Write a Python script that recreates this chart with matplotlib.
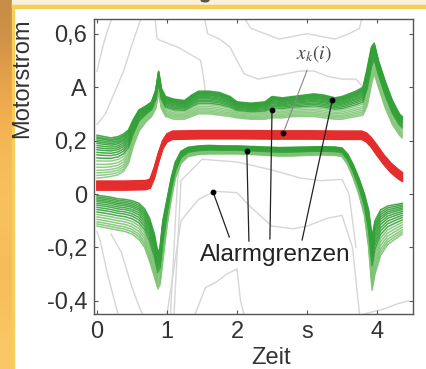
import numpy as np
import matplotlib.pyplot as plt
from matplotlib.patches import Rectangle, Ellipse

plt.rcParams['font.family'] = ['Liberation Sans', 'DejaVu Sans']
plt.rcParams['mathtext.fontset'] = 'stix'

# upper alarm limit bundle: knots, lower and upper edge of the bundle
up_x = [0.00, 0.10, 0.20, 0.30, 0.38, 0.45, 0.52, 0.60, 0.70, 0.78, 0.84, 0.88, 0.92, 0.98,
        1.10, 1.25, 1.35, 1.45, 1.60, 1.75, 1.90, 2.00, 2.20, 2.40, 2.50, 2.65, 2.80, 2.95,
        3.10, 3.25, 3.40, 3.50, 3.60, 3.70, 3.80, 3.86, 3.92, 3.96, 4.02, 4.12, 4.22, 4.32, 4.36]
up_lo = [0.060, 0.062, 0.066, 0.072, 0.085, 0.115, 0.180, 0.235, 0.270, 0.290, 0.320, 0.380, 0.320, 0.290,
         0.280, 0.280, 0.290, 0.300, 0.300, 0.295, 0.290, 0.285, 0.280, 0.280, 0.285, 0.285, 0.290, 0.290,
         0.290, 0.285, 0.280, 0.280, 0.285, 0.290, 0.295, 0.330, 0.410, 0.450, 0.400, 0.320, 0.260, 0.220, 0.210]
up_hi = [0.220, 0.215, 0.210, 0.215, 0.225, 0.240, 0.280, 0.315, 0.330, 0.345, 0.390, 0.460, 0.395, 0.365,
         0.355, 0.350, 0.370, 0.385, 0.385, 0.380, 0.365, 0.345, 0.340, 0.345, 0.365, 0.360, 0.365, 0.370,
         0.375, 0.370, 0.360, 0.365, 0.375, 0.385, 0.400, 0.470, 0.550, 0.565, 0.500, 0.420, 0.350, 0.300, 0.290]

# lower alarm limit bundle
lo_x = [0.00, 0.10, 0.20, 0.30, 0.40, 0.50, 0.60, 0.68, 0.75, 0.82, 0.87, 0.90, 0.94, 1.00, 1.06,
        1.12, 1.20, 1.30, 1.45, 1.60, 1.80, 2.00, 2.20, 2.40, 2.60, 2.80, 3.00, 3.20, 3.40, 3.50,
        3.58, 3.66, 3.74, 3.82, 3.88, 3.93, 3.97, 4.05, 4.15, 4.25, 4.36]
lo_lo = [-0.120, -0.125, -0.130, -0.135, -0.140, -0.150, -0.170, -0.200, -0.250, -0.310, -0.355, -0.340,
         -0.250, -0.120, -0.020, 0.060, 0.115, 0.140, 0.148, 0.150, 0.150, 0.150, 0.148, 0.145, 0.142,
         0.142, 0.145, 0.146, 0.145, 0.140, 0.110, 0.060, 0.000, -0.080, -0.200, -0.360, -0.300, -0.230,
         -0.190, -0.170, -0.150]
lo_hi = [-0.005, -0.008, -0.012, -0.018, -0.020, -0.025, -0.035, -0.055, -0.090, -0.150, -0.220, -0.200,
         -0.100, -0.020, 0.060, 0.120, 0.160, 0.175, 0.180, 0.182, 0.180, 0.180, 0.178, 0.176, 0.174,
         0.175, 0.176, 0.177, 0.176, 0.172, 0.150, 0.110, 0.060, 0.000, -0.060, -0.160, -0.100, -0.060,
         -0.045, -0.040, -0.035]

# measured motor current x_k(i)
red_x = [0.00, 0.40, 0.70, 0.76, 0.82, 0.88, 0.94, 1.00, 1.08, 1.50, 2.00, 2.50, 3.00, 3.50, 3.78,
         3.85, 3.92, 4.00, 4.10, 4.20, 4.30, 4.36]
red_lo = [0.015, 0.015, 0.017, 0.022, 0.060, 0.120, 0.170, 0.195, 0.205, 0.207, 0.207, 0.206, 0.206,
          0.205, 0.205, 0.195, 0.175, 0.145, 0.110, 0.080, 0.058, 0.048]
red_hi = [0.048, 0.048, 0.050, 0.056, 0.100, 0.155, 0.200, 0.225, 0.235, 0.237, 0.237, 0.236, 0.236,
          0.235, 0.235, 0.228, 0.210, 0.182, 0.145, 0.115, 0.092, 0.080]

# position of each trace inside its bundle (0 = lower edge, 1 = upper edge)
up_pos = [0.0, 0.06, 0.12, 0.18, 0.25, 0.32, 0.40, 0.47, 0.54, 0.60, 0.66, 0.71, 0.76, 0.81, 0.85,
          0.89, 0.93, 0.96, 1.0]
lo_pos = [0.0, 0.07, 0.14, 0.22, 0.30, 0.38, 0.46, 0.54, 0.61, 0.68, 0.74, 0.80, 0.85, 0.90, 0.95, 1.0]
red_pos = [0.0, 0.12, 0.25, 0.38, 0.5, 0.62, 0.75, 0.88, 1.0]

# other recorded runs (light grey)
grey_runs = [
    ([0.00, 0.08, 0.16, 0.25], [0.46, 0.55, 0.62, 0.68]),
    ([0.00, 0.12, 0.25, 0.38, 0.50, 0.58, 0.66], [0.26, 0.30, 0.38, 0.46, 0.56, 0.62, 0.68]),
    ([0.82, 0.86, 0.95, 1.15, 1.35, 1.48, 1.52, 1.55], [0.68, 0.58, 0.57, 0.55, 0.52, 0.50, 0.44, 0.38]),
    ([1.52, 1.58, 1.75, 1.90, 2.00, 2.10, 2.30, 2.50, 2.70, 2.90, 3.10, 3.30, 3.50, 3.70, 3.80],
     [0.68, 0.60, 0.58, 0.55, 0.50, 0.45, 0.43, 0.44, 0.45, 0.46, 0.46, 0.44, 0.43, 0.43, 0.40]),
    ([2.05, 2.20, 2.40, 2.60, 2.80, 3.00, 3.20, 3.40, 3.60, 3.75, 3.80],
     [0.68, 0.62, 0.60, 0.58, 0.59, 0.60, 0.59, 0.58, 0.60, 0.62, 0.68]),
    ([1.10, 1.20, 1.50, 2.00, 2.50, 2.90, 3.20, 3.50, 3.60, 3.70],
     [-0.45, 0.05, 0.13, 0.12, 0.09, 0.06, 0.05, 0.055, 0.00, -0.20]),
    ([1.00, 1.20, 1.45, 1.60, 1.70, 2.00, 2.20, 2.50, 2.80, 3.00, 3.30, 3.50, 3.65, 3.75],
     [-0.45, -0.10, -0.02, 0.00, 0.01, 0.005, -0.05, -0.12, -0.13, -0.12, -0.09, -0.08, -0.20, -0.45]),
    ([1.40, 1.55, 1.70, 1.85, 2.00, 2.05, 2.10], [-0.45, -0.35, -0.33, -0.30, -0.28, -0.40, -0.45]),
    ([0.00, 0.05, 0.15, 0.25, 0.30], [-0.14, -0.18, -0.30, -0.40, -0.45]),
    ([0.20, 0.35, 0.50, 0.60, 0.65], [-0.15, -0.22, -0.35, -0.42, -0.45]),
    ([1.05, 1.10, 1.15, 1.20], [-0.45, -0.20, 0.05, 0.15]),
    ([3.80, 3.95, 4.10, 4.30, 4.45], [-0.45, -0.44, -0.43, -0.41, -0.40]),
]

# annotation points
dots_x = [2.66, 2.50, 3.36, 2.14, 1.66]
dots_y = [0.228, 0.314, 0.350, 0.160, 0.006]

fig = plt.figure(figsize=(4.26, 3.69), dpi=100)
fig.patch.set_facecolor('white')

# slide frame around the figure
bg = fig.add_axes([0, 0, 1, 1], zorder=-10)
bg.set_xlim(0, 426)
bg.set_ylim(369, 0)
bg.axis('off')
strip = np.array([[[0.78, 0.55, 0.27]], [[0.94, 0.66, 0.30]], [[0.97, 0.73, 0.34]],
                  [[0.97, 0.77, 0.38]], [[0.96, 0.72, 0.33]], [[0.98, 0.79, 0.40]]])
bg.imshow(strip, extent=(0, 12, 369, 0), aspect='auto', interpolation='bicubic')
bg.add_patch(Rectangle((12, 0), 414, 5.5, color='#fcf0d8'))
bg.add_patch(Rectangle((12, 5), 414, 2.5, color='#f6cf5a'))
bg.add_patch(Rectangle((11.5, 5), 2.5, 364, color='#f6cf5a'))
# remains of the slide title above the frame
bg.add_patch(Ellipse((205, 0.5), 9, 4, facecolor='#555555', edgecolor='none'))

ax = fig.add_axes([94 / 426, 55 / 369, 319 / 426, 295 / 369])

for xs, ys in grey_runs:
    ax.plot(xs, ys, color='#d6d6d6', lw=1.0, zorder=1)

up_x_a, up_lo_a, up_hi_a = np.array(up_x), np.array(up_lo), np.array(up_hi)
for p in up_pos:
    col = '#34a038' if p > 0.45 else '#86c77c'
    ax.plot(up_x_a, up_lo_a + p * (up_hi_a - up_lo_a), color=col, lw=1.1, alpha=0.9, zorder=3)

lo_x_a, lo_lo_a, lo_hi_a = np.array(lo_x), np.array(lo_lo), np.array(lo_hi)
for p in lo_pos:
    col = '#34a038' if p > 0.4 else '#7cc273'
    ax.plot(lo_x_a, lo_lo_a + p * (lo_hi_a - lo_lo_a), color=col, lw=1.1, alpha=0.9, zorder=3)

red_x_a, red_lo_a, red_hi_a = np.array(red_x), np.array(red_lo), np.array(red_hi)
for p in red_pos:
    ax.plot(red_x_a, red_lo_a + p * (red_hi_a - red_lo_a), color='#e42d2d', lw=1.3, zorder=4)

# leader lines
ax.plot([3.00, 2.66], [0.463, 0.228], color='#888888', lw=0.8, zorder=5)
ax.plot([1.89, 1.66], [-0.161, 0.006], color='#222222', lw=0.9, zorder=5)
ax.plot([2.17, 2.14], [-0.176, 0.160], color='#222222', lw=0.9, zorder=5)
ax.plot([2.47, 2.50], [-0.168, 0.314], color='#222222', lw=0.9, zorder=5)
ax.plot([2.93, 3.36], [-0.172, 0.350], color='#222222', lw=0.9, zorder=5)
ax.plot(dots_x, dots_y, 'o', color='black', ms=3.2, zorder=6)

ax.text(3.09, 0.527, r'$x_k(i)$', fontsize=14, color='#444444', ha='center', va='center')
ax.text(2.54, -0.228, 'Alarmgrenzen', fontsize=17.5, color='#222222', ha='center', va='center',
        zorder=7)

ax.set_xlim(-0.043, 4.514)
ax.set_ylim(-0.449, 0.655)
ax.set_xticks([0, 1, 2, 3, 4])
ax.set_xticklabels(['0', '1', '2', 's', '4'])
ax.set_yticks([-0.4, -0.2, 0, 0.2, 0.4, 0.6])
ax.set_yticklabels(['-0,4', '-0,2', '0', '0,2', 'A', '0,6'])
ax.tick_params(direction='in', length=3, width=0.8, top=True, right=True, labelsize=17,
               labelcolor='#333333', color='#555555', pad=5)
for s in ax.spines.values():
    s.set_color('#555555')
    s.set_linewidth(1.0)

ax.set_ylabel('Motorstrom', fontsize=17, color='#333333')
ax.yaxis.set_label_coords(-0.191, 0.80)
ax.set_xlabel('Zeit', fontsize=17, color='#333333', va='top')
ax.xaxis.set_label_coords(0.555, -0.112)

fig.savefig('out.png', dpi=100)
